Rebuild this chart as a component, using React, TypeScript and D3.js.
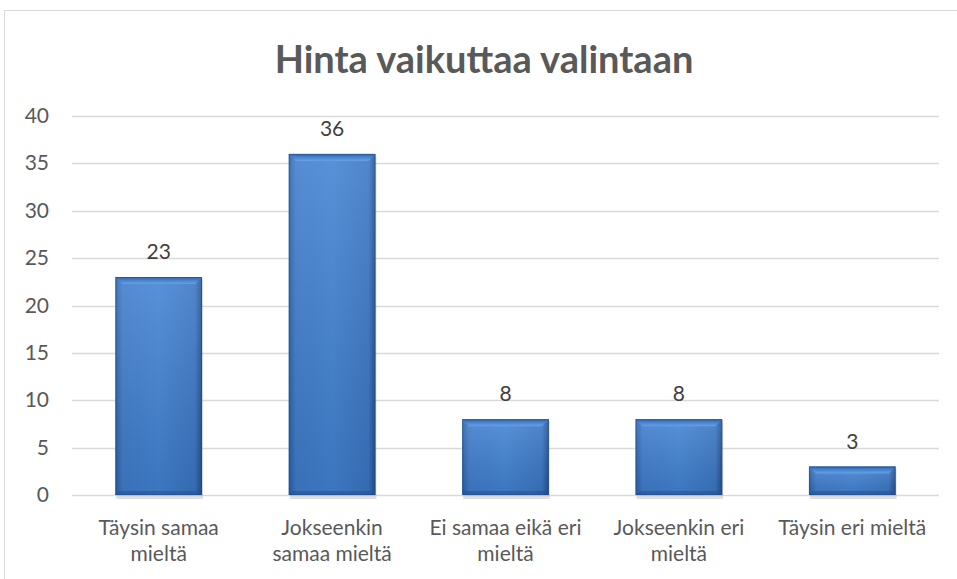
import { useRef, useEffect } from 'react'
import * as d3 from 'd3'

const categories = [
  ['Täysin samaa', 'mieltä'],
  ['Jokseenkin', 'samaa mieltä'],
  ['Ei samaa eikä eri', 'mieltä'],
  ['Jokseenkin eri', 'mieltä'],
  ['Täysin eri mieltä'],
]
const values = [23, 36, 8, 8, 3]
const yTicks = [0, 5, 10, 15, 20, 25, 30, 35, 40]
const title = 'Hinta vaikuttaa valintaan'

export default function App() {
  const ref = useRef<HTMLDivElement>(null)

  useEffect(() => {
    const container = ref.current
    if (!container) return
    container.innerHTML = ''

    const width = 957
    const height = 579
    const margin = { top: 116, right: 18, bottom: 84, left: 72 }
    const font = 'Lato, "Open Sans", sans-serif'
    const textColor = '#595959'

    const svg = d3.select(container).append('svg')
      .attr('width', width)
      .attr('height', height)
      .style('position', 'absolute')
      .style('left', 0)
      .style('top', 0)
      .style('background', '#fff')

    const defs = svg.append('defs')
    const body = defs.append('linearGradient').attr('id', 'barBody')
      .attr('x1', 0).attr('x2', 1).attr('y1', 0).attr('y2', 0)
    body.append('stop').attr('offset', '0%').attr('stop-color', '#2a5fa8')
    body.append('stop').attr('offset', '8%').attr('stop-color', '#3f7ccc')
    body.append('stop').attr('offset', '50%').attr('stop-color', '#4283d3')
    body.append('stop').attr('offset', '92%').attr('stop-color', '#3a76c4')
    body.append('stop').attr('offset', '100%').attr('stop-color', '#224f8f')
    const shade = defs.append('linearGradient').attr('id', 'barShade')
      .attr('x1', 0).attr('x2', 0).attr('y1', 0).attr('y2', 1)
    shade.append('stop').attr('offset', '0%').attr('stop-color', '#fff').attr('stop-opacity', 0.12)
    shade.append('stop').attr('offset', '100%').attr('stop-color', '#000').attr('stop-opacity', 0.1)
    const bevel = defs.append('linearGradient').attr('id', 'barTop')
      .attr('x1', 0).attr('x2', 0).attr('y1', 0).attr('y2', 1)
    bevel.append('stop').attr('offset', '0%').attr('stop-color', '#2e67b3')
    bevel.append('stop').attr('offset', '100%').attr('stop-color', '#66a2e8')

    // chart frame
    svg.append('rect')
      .attr('x', 4.5).attr('y', 10.5)
      .attr('width', width + 10).attr('height', height + 10)
      .attr('fill', 'none').attr('stroke', '#d9d9d9')

    svg.append('text')
      .attr('x', 484).attr('y', 73)
      .attr('text-anchor', 'middle')
      .attr('font-family', font).attr('font-weight', 'bold')
      .attr('font-size', 38).attr('fill', textColor)
      .text(title)

    const x = d3.scaleBand<number>()
      .domain(d3.range(values.length))
      .range([margin.left, width - margin.right])
      .paddingInner(0.5).paddingOuter(0.25)
    const y = d3.scaleLinear()
      .domain([0, 40])
      .range([height - margin.bottom, margin.top])

    const g = svg.append('g')
    g.selectAll('line.grid').data(yTicks).enter().append('line')
      .attr('x1', margin.left).attr('x2', width - margin.right)
      .attr('y1', (d) => Math.round(y(d)) + 0.5).attr('y2', (d) => Math.round(y(d)) + 0.5)
      .attr('stroke', '#d9d9d9').attr('stroke-width', 1.3)

    g.selectAll('text.ytick').data(yTicks).enter().append('text')
      .attr('x', 49).attr('y', (d) => y(d) + 7)
      .attr('text-anchor', 'end')
      .attr('font-family', font).attr('font-size', 21).attr('fill', textColor)
      .text((d) => d)

    const bw = x.bandwidth()
    const bars = g.selectAll('g.bar').data(values).enter().append('g')
      .attr('transform', (d, i) => `translate(${x(i)},${y(d)})`)

    // shadow
    bars.append('rect')
      .attr('x', 1).attr('y', 2)
      .attr('width', bw).attr('height', (d) => y(0) - y(d) + 2)
      .attr('fill', '#000').attr('opacity', 0.12)
    bars.append('rect')
      .attr('width', bw).attr('height', (d) => y(0) - y(d))
      .attr('fill', 'url(#barBody)')
    bars.append('rect')
      .attr('width', bw).attr('height', (d) => y(0) - y(d))
      .attr('fill', 'url(#barShade)')
    // top bevel
    const bev = 7
    bars.append('path')
      .attr('d', `M0,0 L${bw},0 L${bw - bev},${bev} L${bev},${bev} Z`)
      .attr('fill', 'url(#barTop)')
    bars.append('path')
      .attr('d', (d) => {
        const h = y(0) - y(d)
        return `M0,${h} L${bw},${h} L${bw - 4},${h - 4} L4,${h - 4} Z`
      })
      .attr('fill', '#1f4f90').attr('opacity', 0.5)
    bars.append('rect')
      .attr('x', 0.5).attr('y', 0.5)
      .attr('width', bw - 1).attr('height', (d) => y(0) - y(d) - 1)
      .attr('fill', 'none').attr('stroke', '#1f4d8a').attr('stroke-opacity', 0.6)

    g.selectAll('text.value').data(values).enter().append('text')
      .attr('x', (d, i) => (x(i) as number) + bw / 2)
      .attr('y', (d) => y(d) - 18)
      .attr('text-anchor', 'middle')
      .attr('font-family', font).attr('font-size', 21).attr('fill', '#404040')
      .text((d) => d)

    const labels = g.selectAll('text.cat').data(categories).enter().append('text')
      .attr('x', (d, i) => (x(i) as number) + bw / 2)
      .attr('y', 535)
      .attr('text-anchor', 'middle')
      .attr('font-family', font).attr('font-size', 21).attr('fill', textColor)
    labels.selectAll('tspan').data((d) => d).enter().append('tspan')
      .attr('x', function () { return d3.select(this.parentNode as SVGTextElement).attr('x') })
      .attr('dy', (d, i) => (i === 0 ? 0 : 26))
      .text((d) => d)
  }, [])

  return <div ref={ref}></div>
}
